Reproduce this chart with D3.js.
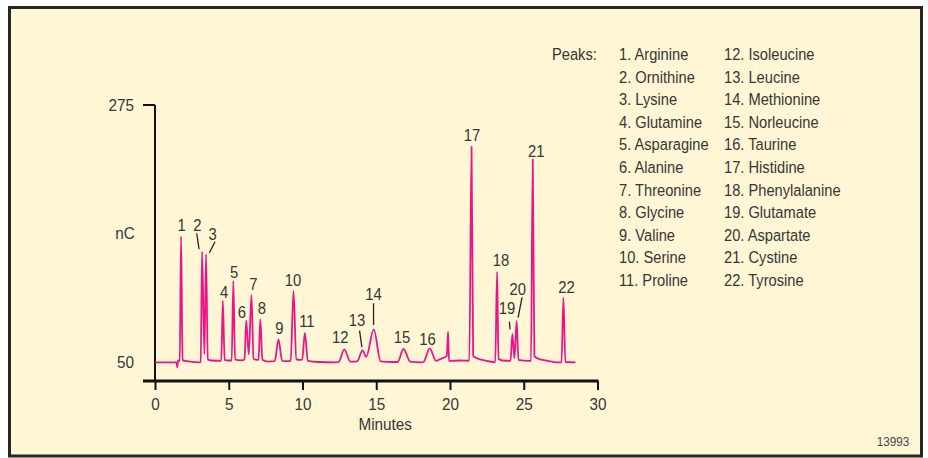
<!DOCTYPE html>
<html>
<head>
<meta charset="utf-8">
<script src="https://cdn.jsdelivr.net/npm/d3@7"></script>
<style>
  html, body { margin: 0; padding: 0; background: #ffffff; }
  svg text {
    font-family: 'Liberation Sans', Arial, sans-serif;
    fill: #363636;
  }
</style>
</head>
<body>
<svg id="chart" width="928" height="458"></svg>
<script>
// ---- Amino acid separation: detector response (nC) vs retention time (min) ----

// Peak apexes
const peakNumbers = [1, 2, 3, 4, 5, 6, 7, 8, 9, 10, 11, 12, 13, 14, 15, 16, 17, 18, 19, 20, 21, 22];
const peakNames = ["Arginine", "Ornithine", "Lysine", "Glutamine", "Asparagine", "Alanine",
  "Threonine", "Glycine", "Valine", "Serine", "Proline", "Isoleucine", "Leucine",
  "Methionine", "Norleucine", "Taurine", "Histidine", "Phenylalanine", "Glutamate",
  "Aspartate", "Cystine", "Tyrosine"];
const peakMinutes = [1.765, 3.19, 3.46, 4.60, 5.31, 6.18, 6.54, 7.14, 8.37, 9.39, 10.16,
  12.83, 14.07, 14.83, 16.85, 18.63, 21.46, 23.19, 24.23, 24.52, 25.61, 27.69];
const peakNC = [159.9, 146.6, 144.3, 103.4, 120.9, 86.3, 108.7, 87.6, 69.7, 112.2, 75.4,
  61.1, 60.1, 78.5, 61.4, 62.0, 238.5, 129.1, 74.5, 85.9, 227.5, 106.3];

// Baseline, peak feet, valleys and the injection / gradient artifacts
const baseMinutes = [0, 1.46, 1.51, 1.56, 1.63, 1.68,
  1.87, 2.04, 2.99, 3.10,
  3.35,
  3.58, 3.80, 4.49,
  4.72, 4.95, 5.20,
  5.43, 5.84, 6.07,
  6.36,
  6.68, 6.89, 7.02,
  7.28, 7.67, 8.12,
  8.62, 9.03, 9.20,
  9.58, 9.77, 9.98,
  10.36, 11.06, 12.29, 12.45,
  13.25, 13.70,
  14.32,
  15.30, 16.09, 16.45,
  17.30, 17.99, 18.20,
  19.05, 19.34, 19.78, 19.87, 19.93, 20.70, 21.31,
  21.57, 21.79, 22.40, 22.94, 23.07,
  23.29, 23.55, 24.10,
  24.37,
  24.64, 25.32, 25.49,
  25.72, 25.93, 26.54, 27.29, 27.56,
  27.82, 28.51];
const baseNC = [49.6, 49.6, 45.2, 51.5, 50.9, 51.0,
  51.8, 50.9, 49.7, 50.0,
  56.7,
  52.2, 51.3, 50.9,
  51.8, 51.3, 51.3,
  52.0, 51.5, 52.0,
  56.7,
  53.0, 51.8, 52.0,
  52.0, 50.4, 50.8,
  51.0, 50.8, 51.0,
  52.5, 51.8, 52.0,
  51.0, 50.0, 49.7, 50.0,
  50.3, 50.5,
  54.4,
  50.5, 50.0, 50.0,
  50.3, 49.6, 50.0,
  51.0, 52.6, 55.3, 76.5, 50.9, 51.3, 51.1,
  55.3, 53.5, 51.3, 50.0, 49.8,
  52.6, 51.3, 50.9,
  53.2,
  51.8, 50.9, 51.0,
  55.3, 53.2, 51.3, 49.6, 49.6,
  50.0, 49.6];

const xTickValues = [0, 5, 10, 15, 20, 25, 30];
const yTickLabels = [50, 275];
const xTitle = "Minutes";
const yTitle = "nC";
const legendTitle = "Peaks:";
const figureId = "13993";

// ---- Layout ----
const svg = d3.select("#chart");
const NARROW = 0.9;   // horizontal squeeze giving a condensed face

// condensed text: a translated group, squeezed horizontally
function ctext(parent, x, y, str, size, anchor = "start", fill = null) {
  const g = parent.append("g")
    .attr("transform", `translate(${x},${y}) scale(${NARROW},1)`);
  const t = g.append("text")
    .attr("text-anchor", anchor)
    .attr("font-size", size)
    .text(str);
  if (fill) t.style("fill", fill);
  return t;
}

const x = d3.scaleLinear().domain([0, 30]).range([155, 597.5]);
const y = d3.scaleLinear().domain([50, 275]).range([362, 105]);
const axisY = 381;

// frame
svg.append("rect")
  .attr("x", 9.5).attr("y", 7.5)
  .attr("width", 912).attr("height", 448.5)
  .attr("fill", "#fef6d5")
  .attr("stroke", "#262626")
  .attr("stroke-width", 3);

// x axis
const xAxis = d3.axisBottom(x)
  .tickValues(xTickValues)
  .tickSize(9)
  .tickPadding(8)
  .tickFormat(d3.format("d"));
const gx = svg.append("g").attr("transform", `translate(0,${axisY})`).call(xAxis);
gx.attr("font-family", null).attr("font-size", null);
gx.select(".domain").remove();
gx.selectAll(".tick line").attr("stroke", "#111").attr("stroke-width", 2);
gx.selectAll(".tick text")
  .attr("font-size", 17)
  .attr("fill", null)
  .attr("transform", `scale(${NARROW},1)`);
svg.append("line")
  .attr("x1", 143).attr("x2", x(30) + 1)
  .attr("y1", axisY).attr("y2", axisY)
  .attr("stroke", "#111").attr("stroke-width", 3);

// y axis
svg.append("line")
  .attr("x1", x(0)).attr("x2", x(0))
  .attr("y1", y(275)).attr("y2", axisY)
  .attr("stroke", "#111").attr("stroke-width", 2);
svg.append("line")
  .attr("x1", 143).attr("x2", x(0))
  .attr("y1", y(275)).attr("y2", y(275))
  .attr("stroke", "#111").attr("stroke-width", 2);
yTickLabels.forEach(v => ctext(svg, 134, y(v) + 6, v, 17, "end"));
ctext(svg, 125, 239, yTitle, 17, "middle");
ctext(svg, (x(0) + x(30)) / 2 + 9, 430, xTitle, 17, "middle");

// trace
const trace = peakMinutes.map((t, i) => [t, peakNC[i]])
  .concat(baseMinutes.map((t, i) => [t, baseNC[i]]))
  .sort((a, b) => a[0] - b[0]);
const line = d3.line()
  .x(d => x(d[0]))
  .y(d => y(d[1]))
  .curve(d3.curveMonotoneX);
svg.append("path")
  .datum(trace)
  .attr("d", line)
  .attr("fill", "none")
  .attr("stroke", "#ea1589")
  .attr("stroke-width", 1.8)
  .attr("stroke-linejoin", "round");

// peak numbers: offset of the label (centre, baseline) from the apex, plus optional leader
const labelLayout = {
  1: { dx: 0.7, dy: -5.5 },
  2: { dx: -4.7, dy: -20.7, lead: [-5.3, -18.4, -3, -2.4] },
  3: { dx: 6.7, dy: -14.3, lead: [9, -12.6, 3.3, -1.6] },
  4: { dx: 1.2, dy: -3.3 },
  5: { dx: 0.7, dy: -3.3 },
  6: { dx: -4.3, dy: -2.8 },
  7: { dx: 2, dy: -4.7 },
  8: { dx: 1.5, dy: -4.7 },
  9: { dx: 1, dy: -5.2 },
  10: { dx: -0.6, dy: -5 },
  11: { dx: 2, dy: -6.3 },
  12: { dx: -4, dy: -6.6 },
  13: { dx: -5.6, dy: -24.5, lead: [-3, -19.8, -0.6, -3.2] },
  14: { dx: -0.2, dy: -29.5, lead: [-0.2, -26.2, -0.2, -4.5] },
  15: { dx: -1.6, dy: -5.7 },
  16: { dx: -2.2, dy: -3 },
  17: { dx: 0.5, dy: -5.7 },
  18: { dx: 4, dy: -5.7 },
  19: { dx: -5.3, dy: -19.7, lead: [-3, -12.3, -2.3, -4.7] },
  20: { dx: 1, dy: -26, lead: [5.4, -23.7, 1.4, -3.3] },
  21: { dx: 3.4, dy: -2.6 },
  22: { dx: 3, dy: -4.4 }
};

const peakG = svg.append("g");
peakNumbers.forEach((n, i) => {
  const px = x(peakMinutes[i]), py = y(peakNC[i]);
  const L = labelLayout[n];
  ctext(peakG, px + L.dx, py + L.dy, n, 16.5, "middle");
  if (L.lead) {
    peakG.append("line")
      .attr("x1", px + L.lead[0]).attr("y1", py + L.lead[1])
      .attr("x2", px + L.lead[2]).attr("y2", py + L.lead[3])
      .attr("stroke", "#222").attr("stroke-width", 1.3);
  }
});

// legend
const legend = svg.append("g");
ctext(legend, 552, 60, legendTitle, 16.3);
const rowStep = 22.6;
peakNumbers.forEach((n, i) => {
  const col = i < 11 ? 0 : 1;
  const row = i % 11;
  ctext(legend, col === 0 ? 619 : 724, 60 + row * rowStep, `${n}. ${peakNames[i]}`, 16.3);
});

// figure number
ctext(svg, 893, 446, figureId, 13, "middle", "#444");
</script>
</body>
</html>
